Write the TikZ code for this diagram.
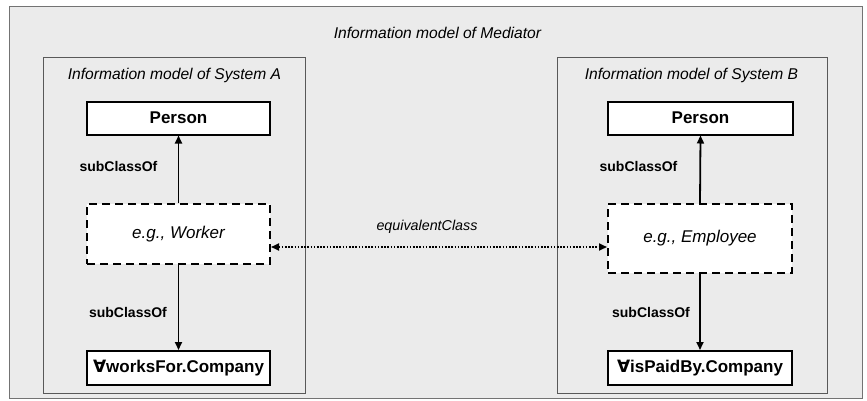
\documentclass[tikz,border=0pt]{standalone}
\usepackage{fontspec}
\setmainfont{Liberation Sans}
\newfontfamily\symfnt{DejaVu Sans}
\usetikzlibrary{arrows.meta}
\definecolor{bggray}{HTML}{EBEBEB}
\tikzset{
  frameA/.style={draw=black!65, line width=1pt, fill=bggray},
  cls/.style={draw=black, line width=2pt, fill=white, inner sep=0pt, font=\fontsize{17}{20}\selectfont\bfseries},
  dcls/.style={draw=black, line width=2pt, fill=white, inner sep=0pt, dash pattern=on 8pt off 5pt, font=\fontsize{17}{20}\selectfont\itshape},
  ttl/.style={font=\fontsize{15.6}{18}\selectfont\itshape, inner sep=0pt},
  lbl/.style={font=\fontsize{14}{16}\selectfont\bfseries, inner sep=0pt},
  sub/.style={line width=1.8pt, -{Triangle[length=8pt,width=7pt]}},
  eqv/.style={line width=1.8pt, dash pattern=on 1.6pt off 1.6pt, {Triangle[length=8pt,width=7pt]}-{Triangle[length=8pt,width=7pt]}}
}
\begin{document}
\begin{tikzpicture}[x=1pt,y=-1pt]
\useasboundingbox (0,0) rectangle (867,400);
\fill[white] (0,0) rectangle (867,400);
\draw[draw=black!55, line width=1pt, fill=bggray] (9,6) rectangle (862,398);
\draw[frameA] (43,57) rectangle (305,393);
\draw[frameA] (557,57) rectangle (827,393);
\node[ttl] (tm) at (437.5,33) {Information model of Mediator};
\node[ttl] (ta) at (174.5,75) {Information model of System A};
\node[ttl] (tb) at (691.5,75) {Information model of System B};
\node[cls, minimum width=183pt, minimum height=33pt] (pa) at (178.5,118) {Person};
\node[dcls, minimum width=183pt, minimum height=60pt] (wk) at (178.5,234) {e.g., Worker};
\node[cls, minimum width=183pt, minimum height=34pt] (wf) at (178.5,368) {{\symfnt ∀}worksFor.Company};
\node[cls, minimum width=185pt, minimum height=33pt] (pb) at (700.5,118) {Person};
\node[dcls, minimum width=184pt, minimum height=69pt] (em) at (700,238.5) {e.g., Employee};
\node[cls, minimum width=184pt, minimum height=34pt] (ip) at (700,368) {{\symfnt ∀}isPaidBy.Company};
\draw[sub] (wk.north) -- (pa.south);
\draw[sub] (wk.south) -- (wf.north);
\draw[sub] (em.north) -- (pb.south);
\draw[sub] (em.south) -- (ip.north);
\draw[eqv] ([yshift=-13pt]wk.east) -- ([yshift=-8.5pt]em.west);
\node[lbl] (l1) at (118.5,166) {subClassOf};
\node[lbl] (l2) at (128,312) {subClassOf};
\node[lbl] (l3) at (638.5,166) {subClassOf};
\node[lbl] (l4) at (651,312) {subClassOf};
\node[font=\fontsize{14.3}{16}\selectfont\itshape, inner sep=0pt] (le) at (427,227) {equivalentClass};
\end{tikzpicture}
\end{document}
